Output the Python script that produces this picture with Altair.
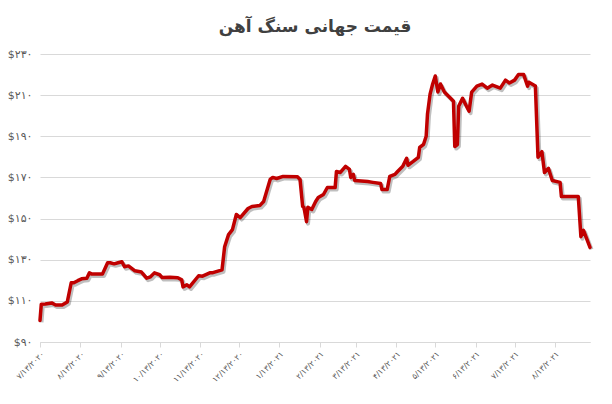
import altair as alt
import pandas as pd

title_text = "قیمت جهانی سنگ آهن"

dates = [
    "2020-07-13", "2020-07-14", "2020-07-17", "2020-07-22", "2020-07-25", "2020-07-30",
    "2020-08-03", "2020-08-06", "2020-08-08", "2020-08-11", "2020-08-14", "2020-08-18",
    "2020-08-20", "2020-08-22", "2020-08-30", "2020-09-03", "2020-09-05", "2020-09-08",
    "2020-09-11", "2020-09-14", "2020-09-16", "2020-09-19", "2020-09-24", "2020-09-29",
    "2020-10-03", "2020-10-06", "2020-10-09", "2020-10-13", "2020-10-15", "2020-10-21",
    "2020-10-27", "2020-10-30", "2020-10-31", "2020-11-03", "2020-11-05", "2020-11-12",
    "2020-11-15", "2020-11-21", "2020-11-23", "2020-11-30", "2020-12-02", "2020-12-05",
    "2020-12-08", "2020-12-11", "2020-12-14", "2020-12-20", "2020-12-23", "2020-12-29",
    "2021-01-01", "2021-01-06", "2021-01-08", "2021-01-11", "2021-01-16", "2021-01-27",
    "2021-01-29", "2021-01-31", "2021-02-01", "2021-02-03", "2021-02-04", "2021-02-07",
    "2021-02-10", "2021-02-12", "2021-02-16", "2021-02-19", "2021-02-25", "2021-02-26",
    "2021-03-01", "2021-03-05", "2021-03-08", "2021-03-09", "2021-03-11", "2021-03-12",
    "2021-03-22", "2021-03-26", "2021-04-01", "2021-04-02", "2021-04-06", "2021-04-08",
    "2021-04-12", "2021-04-14", "2021-04-18", "2021-04-21", "2021-04-22", "2021-04-26",
    "2021-04-30", "2021-05-01", "2021-05-04", "2021-05-06", "2021-05-07", "2021-05-09",
    "2021-05-11", "2021-05-13", "2021-05-15", "2021-05-17", "2021-05-20", "2021-05-24",
    "2021-05-27", "2021-05-28", "2021-05-30", "2021-05-31", "2021-06-03", "2021-06-06",
    "2021-06-08", "2021-06-10", "2021-06-14", "2021-06-18", "2021-06-22", "2021-06-26",
    "2021-07-02", "2021-07-06", "2021-07-09", "2021-07-13", "2021-07-16", "2021-07-20",
    "2021-07-23", "2021-07-24", "2021-07-29", "2021-07-31", "2021-08-03", "2021-08-05",
    "2021-08-08", "2021-08-11", "2021-08-17", "2021-08-18", "2021-08-31", "2021-09-02",
    "2021-09-04", "2021-09-09",
]

prices = [
    100.5, 108.4, 108.5, 109.0, 108.0, 108.0,
    109.5, 118.8, 118.8, 119.8, 120.7, 121.0,
    123.6, 123.0, 123.0, 128.5, 128.5, 128.0,
    128.5, 129.0, 126.6, 127.0, 124.6, 124.0,
    121.0, 121.7, 123.6, 122.7, 121.3, 121.5,
    121.2, 120.2, 116.8, 117.8, 116.8, 122.2,
    122.0, 123.7, 123.7, 125.1, 136.3, 142.2,
    144.6, 152.0, 150.5, 154.9, 155.9, 156.3,
    158.3, 169.0, 170.0, 169.5, 170.5, 170.3,
    169.0, 155.9, 155.4, 148.5, 155.5, 154.4,
    158.3, 160.2, 161.7, 165.1, 165.1, 172.9,
    172.4, 175.4, 173.9, 170.0, 171.5, 168.5,
    168.0, 167.6, 167.0, 164.1, 164.1, 170.5,
    171.5, 172.9, 175.4, 179.3, 175.9, 177.8,
    179.8, 184.6, 186.1, 190.0, 200.7, 210.5,
    215.4, 219.3, 211.5, 215.4, 211.5, 209.0,
    207.0, 185.0, 186.0, 204.6, 208.5, 204.6,
    202.2, 211.5, 214.4, 215.4, 213.4, 214.9,
    213.4, 217.3, 215.9, 217.3, 220.0, 220.0,
    214.4, 216.3, 214.4, 179.8, 182.5, 172.4,
    174.4, 168.5, 167.6, 160.7, 160.7, 141.2,
    144.3, 136.0,
]

x_tick_dates = [
    (2020, 7), (2020, 8), (2020, 9), (2020, 10), (2020, 11), (2020, 12),
    (2021, 1), (2021, 2), (2021, 3), (2021, 4), (2021, 5), (2021, 6),
    (2021, 7), (2021, 8),
]
y_ticks = [90, 110, 130, 150, 170, 190, 210, 230]

df = pd.DataFrame({"date": dates, "price": prices})


def fa_digits(expr):
    s = expr
    for i, d in enumerate("۰۱۲۳۴۵۶۷۸۹"):
        s = f"replace({s}, regexp('{i}', 'g'), '{d}')"
    return s


x_values = [alt.DateTime(year=y, month=m, date=13, utc=True) for (y, m) in x_tick_dates]

x_enc = alt.X(
    "date:T",
    scale=alt.Scale(
        type="utc",
        domain=[
            alt.DateTime(year=2020, month=7, date=13, utc=True),
            alt.DateTime(year=2021, month=9, date=9, utc=True),
        ],
    ),
    axis=alt.Axis(
        title=None,
        values=x_values,
        labelExpr=fa_digits("utcFormat(datum.value, '%-m/%-d/%Y')"),
        labelAngle=315,
        labelAlign="right",
        labelBaseline="top",
        labelFontSize=8,
        labelColor="#595959",
        labelFont="DejaVu Sans",
        labelPadding=3,
        domainColor="#D9D9D9",
        tickColor="#D9D9D9",
        tickSize=5,
        grid=False,
        labelOverlap=False,
    ),
)

y_enc = alt.Y(
    "price:Q",
    scale=alt.Scale(domain=[90, 230], nice=False, zero=False),
    axis=alt.Axis(
        title=None,
        values=y_ticks,
        labelExpr="'$' + " + fa_digits("format(datum.value, 'd')"),
        labelFontSize=11,
        labelColor="#595959",
        labelFont="DejaVu Sans",
        labelPadding=8,
        ticks=False,
        domain=False,
        grid=True,
        gridColor="#D9D9D9",
        gridWidth=1,
    ),
)

shadow = alt.Chart(df).mark_line(
    color="#000000", opacity=0.25, strokeWidth=4, xOffset=1.5, yOffset=2, strokeJoin="round"
).encode(x=x_enc, y=y_enc)

line = alt.Chart(df).mark_line(
    color="#C00000", strokeWidth=3.5, strokeJoin="round", strokeCap="round"
).encode(x=x_enc, y=y_enc)

chart = (
    alt.layer(shadow, line)
    .properties(
        width=550,
        height=288,
        autosize=alt.AutoSizeParams(type="none"),
        padding={"left": 32, "top": 46, "right": 14, "bottom": 54},
        title=alt.TitleParams(
            text=title_text,
            anchor="middle",
            fontSize=17,
            font="DejaVu Sans",
            fontWeight="bold",
            color="#404040",
            offset=12,
        ),
    )
    .configure_view(stroke=None)
)

chart.save("out.html", embed_options={"renderer": "svg", "actions": False})
